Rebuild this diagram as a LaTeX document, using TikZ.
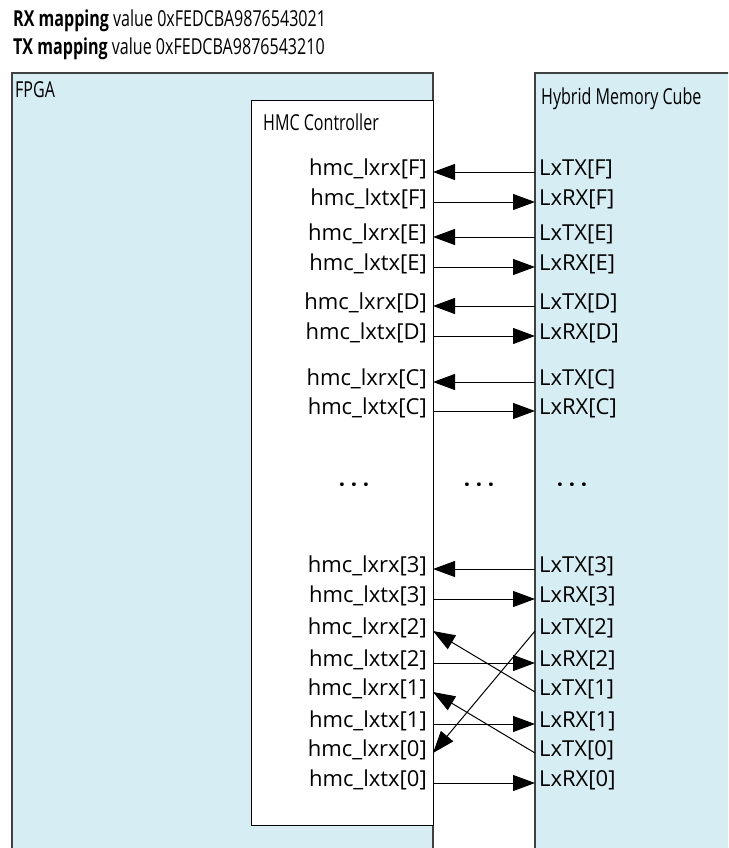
\documentclass[tikz,border=0pt]{standalone}
\usepackage{fontspec}
\setmainfont{Open Sans}
\newfontfamily\condfont[FakeStretch=0.73]{Open Sans}
\usetikzlibrary{positioning,arrows.meta}
\definecolor{hmcblue}{RGB}{214,237,244}
\definecolor{edgegray}{RGB}{64,64,64}

\begin{document}
\begin{tikzpicture}[x=1pt, y=-1pt,
      box/.style={draw=edgegray, line width=1.3pt},
      title/.style={font=\condfont\fontsize{22}{24}\selectfont, inner sep=0pt, anchor=base west},
      pin/.style={font=\fontsize{22}{24}\selectfont, inner ysep=0pt, text height=14pt, text depth=8pt},
      hmcpin/.style={pin, anchor=east, inner xsep=6pt},
      cubepin/.style={pin, anchor=west, inner xsep=4pt},
      link/.style={draw, line width=1pt, -{Triangle[length=22pt,width=16pt]}}
      ]

      \path[use as bounding box] (0,0) rectangle (728,848);
      \clip (0,0) rectangle (728,848);

      % les trois blocs, ouverts vers le bas
      \path[box, fill=hmcblue] (12,73) rectangle (433,870);
      \path[box, draw=black, line width=1pt, fill=white] (251,101) rectangle (433,825);
      \path[box, fill=hmcblue] (535,73) rectangle (760,870);

      \path node[title] (rxmap) at (13,27) {\bfseries RX mapping \mdseries value 0xFEDCBA9876543021};
      \path node[title] (txmap) at (13,55) {\bfseries TX mapping \mdseries value 0xFEDCBA9876543210};

      \path node[title] (fpga) at (15,98) {FPGA};
      \path node[title] (ctrl) at (263,131) {HMC Controller};
      \path node[title] (cube) at (541,105) {Hybrid Memory Cube};

      % lien F
      \path node[hmcpin] (hrxF) at (433,172) {hmc\_lxrx[F]};
      \path node[hmcpin] (htxF) at (433,202) {hmc\_lxtx[F]};
      \path node[cubepin] (ctxF) at (535,172) {LxTX[F]};
      \path node[cubepin] (crxF) at (535,202) {LxRX[F]};
      \path[link] (ctxF.west) -- (hrxF.east);
      \path[link] (htxF.east) -- (crxF.west);

      % lien E
      \path node[hmcpin] (hrxE) at (433,237) {hmc\_lxrx[E]};
      \path node[hmcpin] (htxE) at (433,267) {hmc\_lxtx[E]};
      \path node[cubepin] (ctxE) at (535,237) {LxTX[E]};
      \path node[cubepin] (crxE) at (535,267) {LxRX[E]};
      \path[link] (ctxE.west) -- (hrxE.east);
      \path[link] (htxE.east) -- (crxE.west);

      % lien D
      \path node[hmcpin] (hrxD) at (433,306) {hmc\_lxrx[D]};
      \path node[hmcpin] (htxD) at (433,336) {hmc\_lxtx[D]};
      \path node[cubepin] (ctxD) at (535,306) {LxTX[D]};
      \path node[cubepin] (crxD) at (535,336) {LxRX[D]};
      \path[link] (ctxD.west) -- (hrxD.east);
      \path[link] (htxD.east) -- (crxD.west);

      % lien C
      \path node[hmcpin] (hrxC) at (433,382) {hmc\_lxrx[C]};
      \path node[hmcpin] (htxC) at (433,411) {hmc\_lxtx[C]};
      \path node[cubepin] (ctxC) at (535,382) {LxTX[C]};
      \path node[cubepin] (crxC) at (535,411) {LxRX[C]};
      \path[link] (ctxC.west) -- (hrxC.east);
      \path[link] (htxC.east) -- (crxC.west);

      \path node[font=\fontsize{22}{24}\selectfont\bfseries] (dotsA) at (354,488) {· · ·};
      \path node[font=\fontsize{22}{24}\selectfont\bfseries] (dotsB) at (479,488) {· · ·};
      \path node[font=\fontsize{22}{24}\selectfont\bfseries] (dotsC) at (572,488) {· · ·};

      % lien 3
      \path node[hmcpin] (hrx3) at (433,569) {hmc\_lxrx[3]};
      \path node[hmcpin] (htx3) at (433,599) {hmc\_lxtx[3]};
      \path node[cubepin] (ctx3) at (535,569) {LxTX[3]};
      \path node[cubepin] (crx3) at (535,599) {LxRX[3]};
      \path[link] (ctx3.west) -- (hrx3.east);
      \path[link] (htx3.east) -- (crx3.west);

      % liens 2, 1, 0 : RX croisés
      \path node[hmcpin] (hrx2) at (433,631) {hmc\_lxrx[2]};
      \path node[hmcpin] (htx2) at (433,663) {hmc\_lxtx[2]};
      \path node[hmcpin] (hrx1) at (433,692) {hmc\_lxrx[1]};
      \path node[hmcpin] (htx1) at (433,724) {hmc\_lxtx[1]};
      \path node[hmcpin] (hrx0) at (433,753) {hmc\_lxrx[0]};
      \path node[hmcpin] (htx0) at (433,783) {hmc\_lxtx[0]};
      \path node[cubepin] (ctx2) at (535,631) {LxTX[2]};
      \path node[cubepin] (crx2) at (535,663) {LxRX[2]};
      \path node[cubepin] (ctx1) at (535,692) {LxTX[1]};
      \path node[cubepin] (crx1) at (535,724) {LxRX[1]};
      \path node[cubepin] (ctx0) at (535,753) {LxTX[0]};
      \path node[cubepin] (crx0) at (535,783) {LxRX[0]};

      \path[link] (htx2.east) -- (crx2.west);
      \path[link] (htx1.east) -- (crx1.west);
      \path[link] (htx0.east) -- (crx0.west);
      \path[link] (ctx1.west) -- (hrx2.east);
      \path[link] (ctx0.west) -- (hrx1.east);
      \path[link] (ctx2.west) -- (hrx0.east);
    \end{tikzpicture}
\end{document}
